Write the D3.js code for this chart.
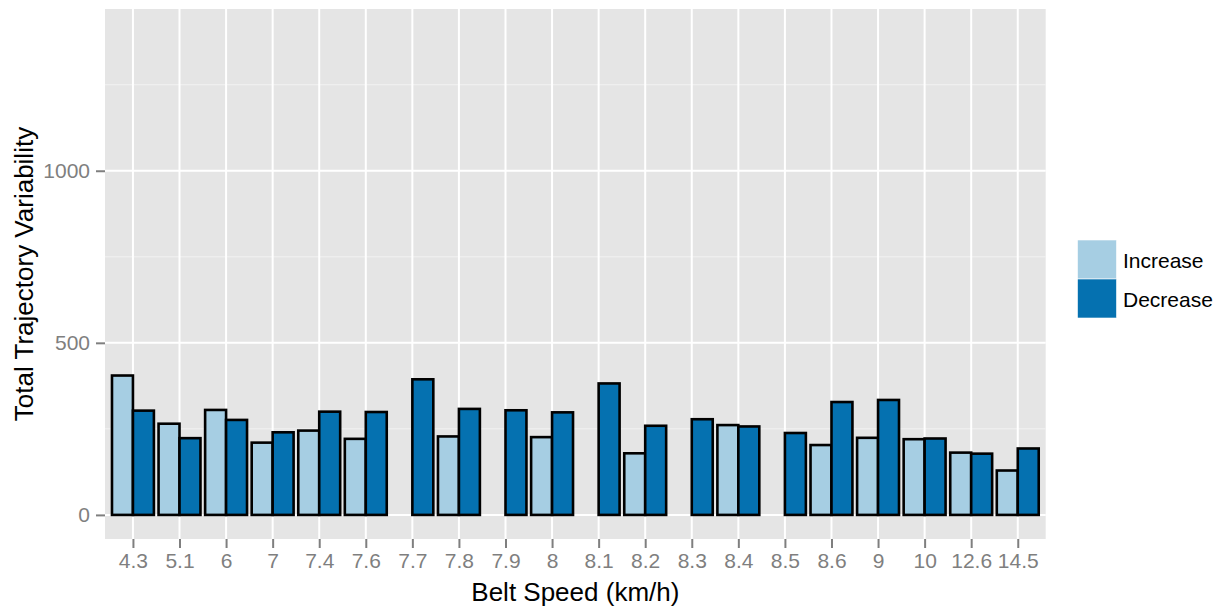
<!DOCTYPE html>
<html>
<head>
<meta charset="utf-8">
<script src="https://cdn.jsdelivr.net/npm/d3@7"></script>
<style>
  html, body { margin: 0; padding: 0; background: #ffffff; }
  svg { display: block; font-family: "Liberation Sans", Arial, Helvetica, sans-serif; }
</style>
</head>
<body>
<svg id="chart" width="1228" height="609"></svg>
<script>
const categories = ["4.3","5.1","6","7","7.4","7.6","7.7","7.8","7.9","8","8.1","8.2","8.3","8.4","8.5","8.6","9","10","12.6","14.5"];
const increaseValues = [405, 265, 305, 210, 245, 221, null, 228, null, 226, null, 179, null, 261, null, 203, 224, 220, 181, 129];
const decreaseValues = [303, 223, 276, 240, 300, 299, 394, 308, 304, 298, 382, 259, 278, 257, 238, 328, 334, 222, 178, 193];
const seriesNames = ["Increase", "Decrease"];
const seriesColors = ["#a6cee3", "#0571b0"];
const yTicks = [0, 500, 1000];
const yMinorTicks = [250, 750, 1250];

const svg = d3.select("#chart");
const panel = { left: 105, right: 1045.7, top: 9, bottom: 539 };

const x = d3.scalePoint().domain(categories).range([panel.left, panel.right]).padding(0.6);
const y = d3.scaleLinear().domain([-70, 1470]).range([panel.bottom, panel.top]);
const step = x.step();
const barW = step * 0.9 / 2;

// panel background
svg.append("rect")
  .attr("x", panel.left).attr("y", panel.top)
  .attr("width", panel.right - panel.left).attr("height", panel.bottom - panel.top)
  .attr("fill", "#e5e5e5");

// minor grid
svg.append("g").selectAll("line").data(yMinorTicks).join("line")
  .attr("x1", panel.left).attr("x2", panel.right)
  .attr("y1", d => y(d)).attr("y2", d => y(d))
  .attr("stroke", "#f2f2f2").attr("stroke-width", 1);

// major grid
svg.append("g").selectAll("line").data(yTicks).join("line")
  .attr("x1", panel.left).attr("x2", panel.right)
  .attr("y1", d => y(d)).attr("y2", d => y(d))
  .attr("stroke", "#ffffff").attr("stroke-width", 2);
svg.append("g").selectAll("line").data(categories).join("line")
  .attr("x1", d => x(d)).attr("x2", d => x(d))
  .attr("y1", panel.top).attr("y2", panel.bottom)
  .attr("stroke", "#ffffff").attr("stroke-width", 2);

// bars
const rows = [];
categories.forEach((c, i) => {
  if (increaseValues[i] != null) rows.push({ cat: c, s: 0, v: increaseValues[i] });
  if (decreaseValues[i] != null) rows.push({ cat: c, s: 1, v: decreaseValues[i] });
});
svg.append("g").selectAll("rect").data(rows).join("rect")
  .attr("x", d => x(d.cat) - barW + d.s * barW)
  .attr("width", barW)
  .attr("y", d => y(d.v))
  .attr("height", d => y(0) - y(d.v))
  .attr("fill", d => seriesColors[d.s])
  .attr("stroke", "#000000")
  .attr("stroke-width", 2.6);

// axes
const xAxis = svg.append("g")
  .attr("transform", `translate(0,${panel.bottom})`)
  .call(d3.axisBottom(x).tickSize(9).tickPadding(5));
xAxis.select(".domain").remove();
xAxis.selectAll(".tick line").attr("stroke", "#7f7f7f").attr("stroke-width", 2);
xAxis.selectAll(".tick text").attr("fill", "#7f7f7f").attr("font-size", "21px")
  .attr("font-family", "Liberation Sans, Arial, sans-serif");

const yAxis = svg.append("g")
  .attr("transform", `translate(${panel.left},0)`)
  .call(d3.axisLeft(y).tickValues(yTicks).tickFormat(d3.format("d")).tickSize(9).tickPadding(6));
yAxis.select(".domain").remove();
yAxis.selectAll(".tick line").attr("stroke", "#7f7f7f").attr("stroke-width", 2);
yAxis.selectAll(".tick text").attr("fill", "#7f7f7f").attr("font-size", "21px")
  .attr("font-family", "Liberation Sans, Arial, sans-serif");

// axis titles
svg.append("text")
  .attr("x", (panel.left + panel.right) / 2).attr("y", 601)
  .attr("text-anchor", "middle").attr("font-size", "26px").attr("fill", "#000")
  .text("Belt Speed (km/h)");
svg.append("text")
  .attr("transform", `translate(33,${(panel.top + panel.bottom) / 2}) rotate(-90)`)
  .attr("text-anchor", "middle").attr("font-size", "26px").attr("fill", "#000")
  .text("Total Trajectory Variability");

// legend
const lg = svg.append("g").attr("transform", "translate(1077.5,240)");
seriesNames.forEach((name, i) => {
  lg.append("rect")
    .attr("x", 0).attr("y", i * 39).attr("width", 39).attr("height", 39)
    .attr("fill", seriesColors[i]).attr("stroke", "#ffffff").attr("stroke-width", 0.6);
  lg.append("text")
    .attr("x", 45.5).attr("y", i * 39 + 27.5)
    .attr("font-size", "21px").attr("fill", "#000")
    .text(name);
});
</script>
</body>
</html>
